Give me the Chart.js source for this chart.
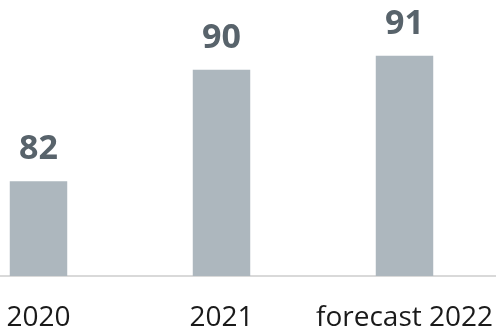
<!DOCTYPE html>
<html lang="en">
<head>
    <meta charset="UTF-8">
    <title>Bar chart</title>
    <script src="https://cdn.jsdelivr.net/npm/chart.js"></script>
    <style>
        body {
            margin: 0;
            background: white;
            overflow: hidden;
        }
        .wrap {
            position: absolute;
            left: -53px;
            top: 0;
            width: 549px;
            height: 360px;
        }
    </style>
</head>
<body>
    <div class="wrap">
        <canvas id="barCanvas" width="549" height="360"></canvas>
    </div>
    <script>
        const categories = ["2020", "2021", "forecast 2022"];
        const values = [82, 90, 91];

        // value labels above each bar
        const valueLabels = {
            id: "valueLabels",
            afterDatasetsDraw(chart) {
                const ctx = chart.ctx;
                const meta = chart.getDatasetMeta(0);
                ctx.save();
                ctx.font = "bold 34px 'Open Sans'";
                ctx.fillStyle = "#58636b";
                ctx.textAlign = "center";
                ctx.textBaseline = "alphabetic";
                meta.data.forEach(function (bar, i) {
                    ctx.fillText(values[i], bar.x, bar.y - 22);
                });
                ctx.restore();
            }
        };

        const ctx = document.getElementById("barCanvas").getContext("2d");
        new Chart(ctx, {
            type: "bar",
            data: {
                labels: categories,
                datasets: [{
                    data: values,
                    backgroundColor: "#adb7be",
                    barPercentage: 0.314,
                    categoryPercentage: 1
                }]
            },
            options: {
                responsive: false,
                animation: false,
                layout: { padding: 0 },
                plugins: {
                    legend: { display: false },
                    tooltip: { enabled: false }
                },
                scales: {
                    x: {
                        grid: { display: false, drawTicks: false },
                        border: { display: true, color: "#d9d9d9", width: 2 },
                        ticks: {
                            color: "#1a1a1a",
                            padding: 0,
                            maxRotation: 0,
                            autoSkip: false,
                            // tall line box pushes the labels down from the baseline
                            font: { family: "'Open Sans'", size: 28, lineHeight: 3 }
                        }
                    },
                    y: {
                        display: false,
                        min: 75.2,
                        max: 95
                    }
                }
            },
            plugins: [valueLabels]
        });
    </script>
</body>
</html>
